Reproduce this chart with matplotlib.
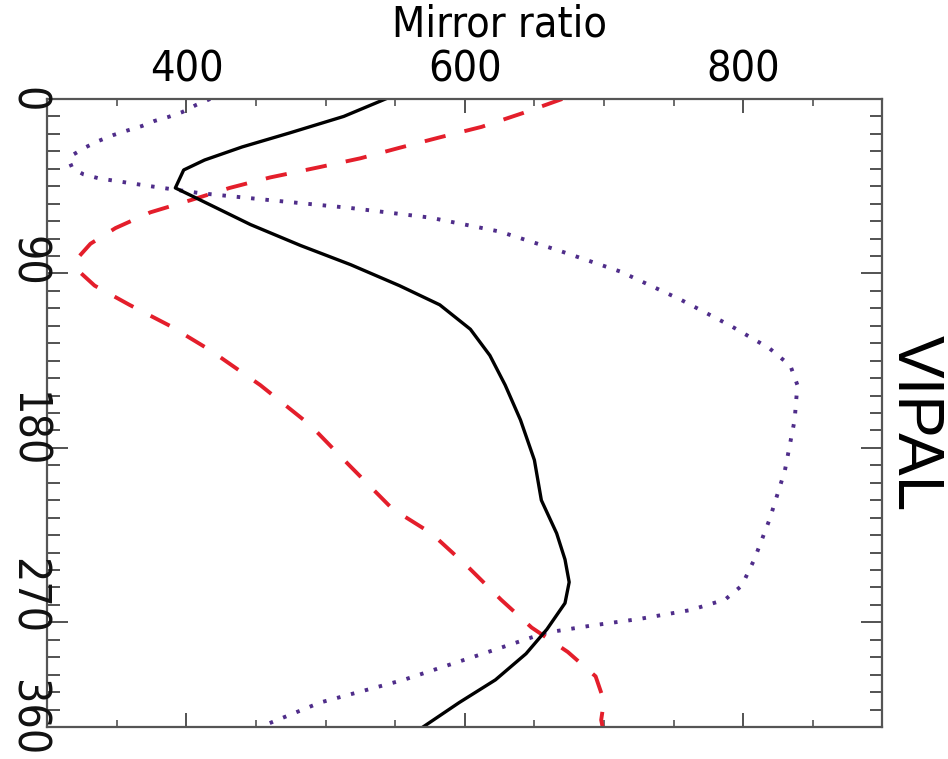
import matplotlib
matplotlib.use('Agg')
import matplotlib.pyplot as plt
from matplotlib.ticker import MultipleLocator, FixedLocator, NullFormatter
import matplotlib.transforms as mtransforms

# angle (deg) vs mirror ratio
black_angle = [0, 10, 19.5, 27.5, 35, 40.7, 51, 56, 72, 84, 95, 107, 118, 132, 147,
               164, 184, 207, 230, 249, 264, 277, 289, 304, 318, 333, 346, 360]
black_ratio = [543, 513, 474, 440, 413, 398, 392, 405, 446, 482, 518, 553, 582, 604, 618,
               629, 640, 650, 655, 666, 672, 675, 672, 659, 644, 622, 596, 570]

red_angle = [0, 8, 16, 22, 28, 34, 39, 45, 51, 58, 65, 74, 83, 91, 99, 107, 118, 130,
             144, 164, 187, 210, 235, 249, 268, 287, 303, 317, 331, 345, 356, 360]
red_ratio = [670, 642, 612, 582, 553, 525, 496, 460, 431, 403, 374, 349, 331, 322, 323,
             334, 359, 388, 417, 453, 489, 517, 548, 576, 602, 626, 648, 674, 694, 700, 698, 699]

purple_angle = [0, 3.4, 7.5, 10.3, 12.6, 15.5, 18.2, 20.8, 24, 27.5, 31.7, 36, 39.7, 43.2,
                45.5, 50, 54, 58, 62.5, 68, 76, 87, 99, 115, 130, 143, 153, 164, 184, 213,
                241, 264, 279, 287, 293, 298, 302, 306, 318, 333, 346, 360]
purple_ratio = [417, 407, 397, 387, 377, 368, 357, 347, 337, 328, 319, 316, 318, 326,
                337, 374, 410, 460, 518, 575, 625, 668, 712, 755, 791, 819, 834, 839, 837, 830,
                819, 808, 799, 787, 762, 726, 690, 658, 613, 556, 496, 453]

x_major = [400, 600, 800]
ylab_text = ['0', '90', '180', '270', '360']
ylab_pos = [0.5, 93, 190, 285, 355]

fig = plt.figure(figsize=(9.48, 7.59), dpi=100)
ax = fig.add_axes([0.0499, 0.0422, 0.8808, 0.8274])

ax.plot(purple_ratio, purple_angle, color='#4f2d8a', lw=2.8, ls=(0, (0.9, 2.8)),
        dash_capstyle='butt')
ax.plot(red_ratio, red_angle, color='#e41e2b', lw=2.8, ls=(0, (5.5, 5)))
ax.plot(black_ratio, black_angle, color='black', lw=2.4)

ax.set_xlim(300, 900)
ax.set_ylim(360, 0)

ax.xaxis.tick_top()
ax.xaxis.set_label_position('top')
ax.set_xticks(x_major)
ax.xaxis.set_minor_locator(MultipleLocator(50))
ax.tick_params(axis='x', which='both', direction='in', top=True, bottom=True,
               labeltop=True, labelbottom=False, pad=6, color='#444444')
ax.tick_params(axis='x', which='major', length=10, width=1.3)
ax.tick_params(axis='x', which='minor', length=5, width=1.1)
for lab in ax.get_xticklabels():
    lab.set_fontsize(31)
    lab.set_fontstretch('condensed')
ax.set_xlabel('Mirror ratio', fontsize=31, fontstretch='condensed', va='center')
ax.xaxis.set_label_coords(0.542, 1 + 74 / 627.7)

ax.yaxis.set_major_locator(FixedLocator([100, 200, 300]))
ax.yaxis.set_minor_locator(MultipleLocator(10))
ax.yaxis.set_major_formatter(NullFormatter())
ax.tick_params(axis='y', which='both', direction='in', left=True, right=True,
               labelleft=False, color='#444444')
ax.tick_params(axis='y', which='major', length=15, width=1.3)
ax.tick_params(axis='y', which='minor', length=9, width=1.3)

for s in ax.spines.values():
    s.set_color('#555555')
    s.set_linewidth(1.6)

# left angle labels (rotated, read top to bottom)
trans = mtransforms.blended_transform_factory(fig.transFigure, ax.transData)
for t, p in zip(ylab_text, ylab_pos):
    fig.text(27 / 948, p, t, transform=trans, rotation=-90, fontsize=32,
             fontstretch='condensed', ha='center', va='center', color='#111111')

fig.text(915 / 948, 1 - 423 / 759, 'VIPAL', rotation=-90, fontsize=46,
         family='Liberation Sans', ha='center', va='center')

fig.savefig('out.png', dpi=100)
